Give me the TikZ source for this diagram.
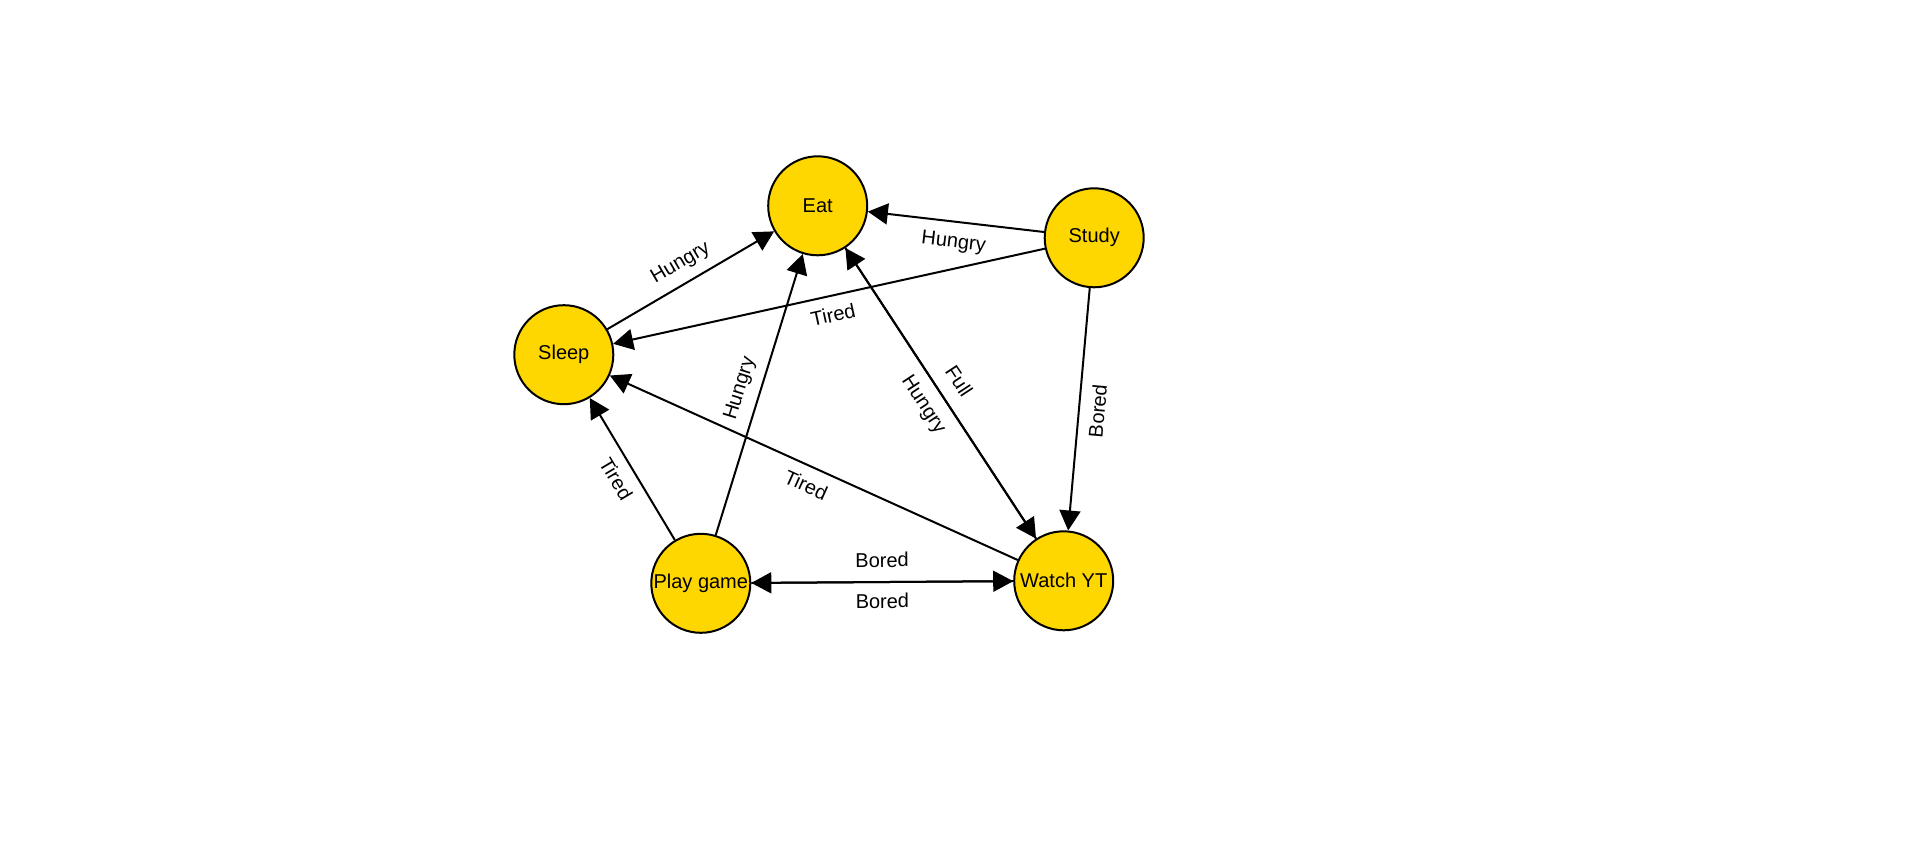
\documentclass[tikz,border=0pt]{standalone}
\usepackage{fontspec}
\setmainfont{Liberation Sans}
\usetikzlibrary{arrows.meta}
\definecolor{stategold}{HTML}{FFD700}
\begin{document}
\begin{tikzpicture}[x=1pt,y=-1pt,
  state/.style={circle,draw=black,line width=2pt,fill=stategold,minimum size=99pt,inner sep=0pt,font=\fontsize{20}{24}\selectfont},
  link/.style={draw=black,line width=2pt,-{Triangle[length=20pt,width=21pt]}},
  lab/.style={sloped,midway,inner sep=10pt,text height=15pt,text depth=4pt,font=\fontsize{20}{24}\selectfont}]
\useasboundingbox[fill=white] (0,0) rectangle (1920,850);
\node[state] (eat) at (817.7,205.8) {Eat};
\node[state] (study) at (1094.2,237.8) {Study};
\node[state] (sleep) at (563.8,354.7) {Sleep};
\node[state] (play) at (700.8,583.3) {Play game};
\node[state] (watch) at (1063.7,580.8) {Watch YT};
\draw[link] (sleep) -- node[lab,above]{Hungry} (eat);
\draw[link] (study) -- node[lab,below]{Hungry} (eat);
\draw[link] (study) -- node[lab,below]{Tired} (sleep);
\draw[link] (play) -- node[lab,above]{Hungry} (eat);
\draw[link] (eat) -- node[lab,above]{Full} (watch);
\draw[link] (watch) -- node[lab,below]{Hungry} (eat);
\draw[link] (study) -- node[lab,below]{Bored} (watch);
\draw[link] (watch) -- node[lab,below]{Tired} (sleep);
\draw[link] (play) -- node[lab,below]{Tired} (sleep);
\draw[link] (play) -- node[lab,above]{Bored} (watch);
\draw[link] (watch) -- node[lab,below]{Bored} (play);
\end{tikzpicture}
\end{document}
